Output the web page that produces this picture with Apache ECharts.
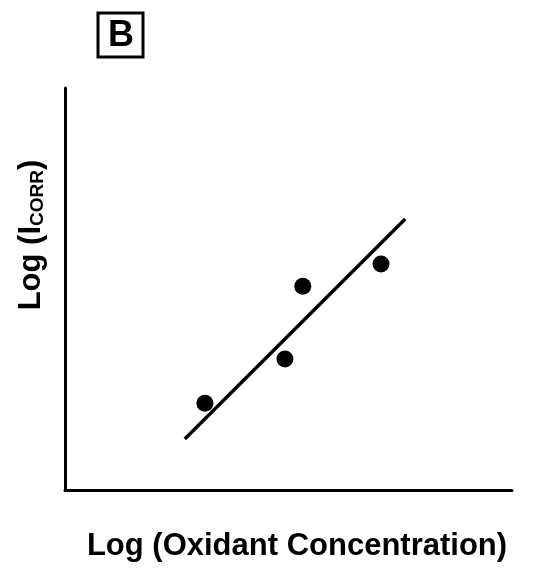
<!DOCTYPE html>
<html>
<head>
<meta charset="utf-8">
<script src="https://cdn.jsdelivr.net/npm/echarts@6/dist/echarts.min.js"></script>
<style>
  html, body { margin: 0; padding: 0; background: #fff; }
  #chart { width: 539px; height: 569px; }
</style>
</head>
<body>
<div id="chart"></div>
<script>
// measured points (arbitrary log units, axes have no ticks)
var pointX = [3.13, 4.92, 5.32, 7.07];
var pointY = [2.16, 3.26, 5.07, 5.62];
// fitted line end points
var fitX = [2.68, 7.61];
var fitY = [1.27, 6.74];

var FONT = '"Liberation Sans", Arial, sans-serif';

var scatterData = pointX.map(function (x, i) { return [x, pointY[i]]; });
var fitData = fitX.map(function (x, i) { return [x, fitY[i]]; });

var axisCommon = {
    type: 'value',
    min: 0,
    max: 10,
    axisLine: { show: true, lineStyle: { color: '#000', width: 3 } },
    axisTick: { show: false },
    axisLabel: { show: false },
    splitLine: { show: false }
};

var chart = echarts.init(document.getElementById('chart'));
chart.setOption({
    animation: false,
    backgroundColor: '#fff',
    grid: { left: 65, top: 88, right: 27, bottom: 79 },
    xAxis: axisCommon,
    yAxis: axisCommon,
    graphic: [
        {
            type: 'rect',
            shape: { x: 98, y: 13, width: 45, height: 44 },
            style: { fill: 'none', stroke: '#000', lineWidth: 3 }
        },
        {
            type: 'text',
            x: 121, y: 36,
            style: {
                text: 'B', font: 'bold 36px ' + FONT, fill: '#000',
                align: 'center', verticalAlign: 'middle'
            }
        },
        {
            type: 'text',
            x: 297, y: 546,
            style: {
                text: 'Log (Oxidant Concentration)', font: 'bold 31px ' + FONT,
                fill: '#000', align: 'center', verticalAlign: 'middle'
            }
        },
        {
            type: 'text',
            x: 30, y: 235,
            rotation: Math.PI / 2,
            style: {
                text: '{a|Log (I}{b|CORR}{a|)}',
                align: 'center', verticalAlign: 'middle',
                rich: {
                    a: { font: 'bold 31px ' + FONT, fill: '#000', lineHeight: 34, verticalAlign: 'bottom' },
                    b: { font: 'bold 19px ' + FONT, fill: '#000', lineHeight: 34, verticalAlign: 'bottom' }
                }
            }
        }
    ],
    series: [
        {
            type: 'line',
            data: fitData,
            showSymbol: false,
            lineStyle: { color: '#000', width: 3.5 }
        },
        {
            type: 'scatter',
            data: scatterData,
            symbolSize: 17,
            itemStyle: { color: '#000', opacity: 1 }
        }
    ]
});
</script>
</body>
</html>
